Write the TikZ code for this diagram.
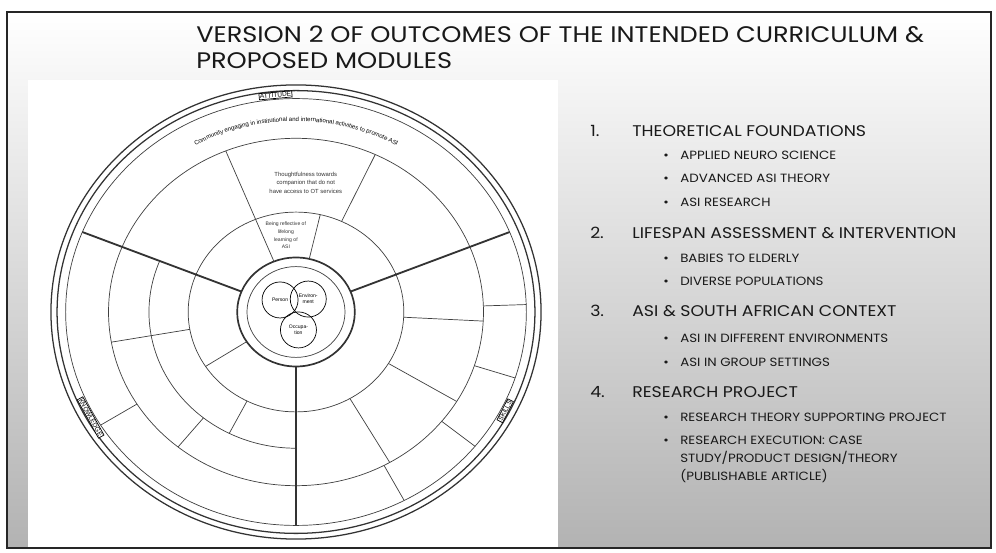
\documentclass[tikz,border=0pt]{standalone}
\usepackage{fontspec}
\setmainfont{Poppins}
\newfontfamily\headfont[FakeStretch=1.14]{Poppins}
\newfontfamily\listfont[FakeStretch=1.12]{Poppins}
\newfontfamily\wheelfont{Liberation Sans}
\usetikzlibrary{decorations.text}

\begin{document}
\begin{tikzpicture}
[x=0.025cm,y=0.025cm,
 headline/.style={anchor=base west,inner sep=0pt,font=\fontsize{16}{16}\headfont\selectfont,text=black!90},
 item/.style={anchor=base west,inner sep=0pt,font=\fontsize{11}{12}\listfont\selectfont,text=black!90},
 subitem/.style={anchor=base west,inner sep=0pt,font=\fontsize{8.5}{9}\listfont\selectfont,text=black!90},
 cellline/.style={line width=0.5pt,black!75},
 ring/.style={line width=0.9pt,black!80},
 spoke/.style={line width=1.3pt,black!80},
 tag/.style={draw,line width=0.5pt,fill=white,inner sep=0.6pt,font=\fontsize{4.6}{5}\wheelfont\selectfont},
 cell/.style={align=center,inner sep=0pt,text=black!80},
 venn/.style={circle,draw,line width=0.5pt,minimum size=0.9cm,inner sep=0pt,align=center,font=\fontsize{3.6}{4.3}\wheelfont\selectfont}]
\useasboundingbox (0,0) rectangle (996,553);
\fill[white] (0,0) rectangle (996,553);
\shade[top color=white,bottom color=black!30] (7,5) rectangle (991,541);
\fill[white] (28,5) rectangle (558,473);
\draw[line width=1.5pt,black!85] (7,5) rectangle (991,541);

\node[headline] (t1) at (196,510) {VERSION 2 OF OUTCOMES OF THE INTENDED CURRICULUM \&};
\node[headline] (t2) at (196,484) {PROPOSED MODULES};

\node[item] (n1) at (590,416) {1.};
\node[item] (m1) at (632,416) {THEORETICAL FOUNDATIONS};
\node[subitem] (b11) at (663,393) {•};
\node[subitem] (s11) at (680,393) {APPLIED NEURO SCIENCE};
\node[subitem] (b12) at (663,370) {•};
\node[subitem] (s12) at (680,370) {ADVANCED ASI THEORY};
\node[subitem] (b13) at (663,346) {•};
\node[subitem] (s13) at (680,346) {ASI RESEARCH};
\node[item] (n2) at (590,314) {2.};
\node[item] (m2) at (632,314) {LIFESPAN ASSESSMENT \& INTERVENTION};
\node[subitem] (b21) at (663,290) {•};
\node[subitem] (s21) at (680,290) {BABIES TO ELDERLY};
\node[subitem] (b22) at (663,267) {•};
\node[subitem] (s22) at (680,267) {DIVERSE POPULATIONS};
\node[item] (n3) at (590,236) {3.};
\node[item] (m3) at (632,236) {ASI \& SOUTH AFRICAN CONTEXT};
\node[subitem] (b31) at (663,210) {•};
\node[subitem] (s31) at (680,210) {ASI IN DIFFERENT ENVIRONMENTS};
\node[subitem] (b32) at (663,186) {•};
\node[subitem] (s32) at (680,186) {ASI IN GROUP SETTINGS};
\node[item] (n4) at (590,155) {4.};
\node[item] (m4) at (632,155) {RESEARCH PROJECT};
\node[subitem] (b41) at (663,131) {•};
\node[subitem] (s41) at (680,131) {RESEARCH THEORY SUPPORTING PROJECT};
\node[subitem] (b42) at (663,108) {•};
\node[subitem] (s42a) at (680,108) {RESEARCH EXECUTION: CASE};
\node[subitem] (s42b) at (680,90) {STUDY/PRODUCT DESIGN/THEORY};
\node[subitem] (s42c) at (680,72) {(PUBLISHABLE ARTICLE)};

\begin{scope}[shift={(296,241)},x=6.125cm,y=5.675cm]
\draw[ring] (0,0) circle[radius=1];
\draw[ring] (0,0) circle[radius=0.975];
\draw[cellline] (0,0) circle[radius=0.94];
\draw[cellline] (0,0) circle[radius=0.765];
\draw[cellline] (0,0) circle[radius=0.44];
\draw[cellline] (158:0.6) arc[start angle=158,end angle=270,radius=0.6];
\draw[ring,line width=1.2pt] (0,0) circle[radius=0.24];
\draw[cellline] (0,0) circle[radius=0.2];
\draw[spoke] (22:0.24) -- (22:0.94);
\draw[spoke] (158:0.24) -- (158:0.94);
\draw[spoke] (270:0.24) -- (270:0.94);
\draw[cellline] (112:0.24) -- (112:0.765);
\draw[cellline] (65:0.44) -- (65:0.765);
\draw[cellline] (77:0.24) -- (77:0.44);
\draw[cellline] (190:0.44) -- (190:0.765);
\draw[cellline] (231:0.6) -- (231:0.765);
\draw[cellline] (243:0.44) -- (243:0.6);
\draw[cellline] (212:0.765) -- (212:0.94);
\draw[cellline] (213:0.24) -- (213:0.44);
\draw[cellline] (2:0.765) -- (2:0.94);
\draw[cellline] (-18:0.765) -- (-18:0.94);
\draw[cellline] (-39:0.765) -- (-39:0.94);
\draw[cellline] (-62:0.765) -- (-62:0.94);
\draw[cellline] (-3:0.44) -- (-3:0.765);
\draw[cellline] (-31:0.44) -- (-31:0.765);
\draw[cellline] (-60:0.44) -- (-60:0.765);
\node[tag,rotate=5] (att) at (95:0.958) {ATTITUDE};
\node[tag,rotate=-61] (kno) at (209:0.958) {KNOWLEDGE};
\node[tag,rotate=63] (ski) at (333:0.958) {SKILLS};
\path[decorate,decoration={text along path,text align=center,
  text={|\fontsize{4.3}{5}\wheelfont\selectfont|Community engaging in institutional and international activities to promote ASI}}]
  (135:0.84) arc[start angle=135,end angle=45,radius=0.84];
\node[cell,font=\fontsize{4.2}{5.7}\wheelfont\selectfont] (thou) at (86:0.57) {Thoughtfulness towards\\companion that do not\\have access to OT services};
\node[cell,font=\fontsize{3.6}{5.5}\wheelfont\selectfont] (refl) at (97:0.34) {Being reflective of\\lifelong\\learning of\\ASI};
\node[venn] (pers) at (-0.065,0.053) {Person};
\node[venn] (envi) at (0.05,0.057) {Environ-\\ment};
\node[venn] (occu) at (0.01,-0.079) {Occupa-\\tion};
\end{scope}
\end{tikzpicture}
\end{document}
